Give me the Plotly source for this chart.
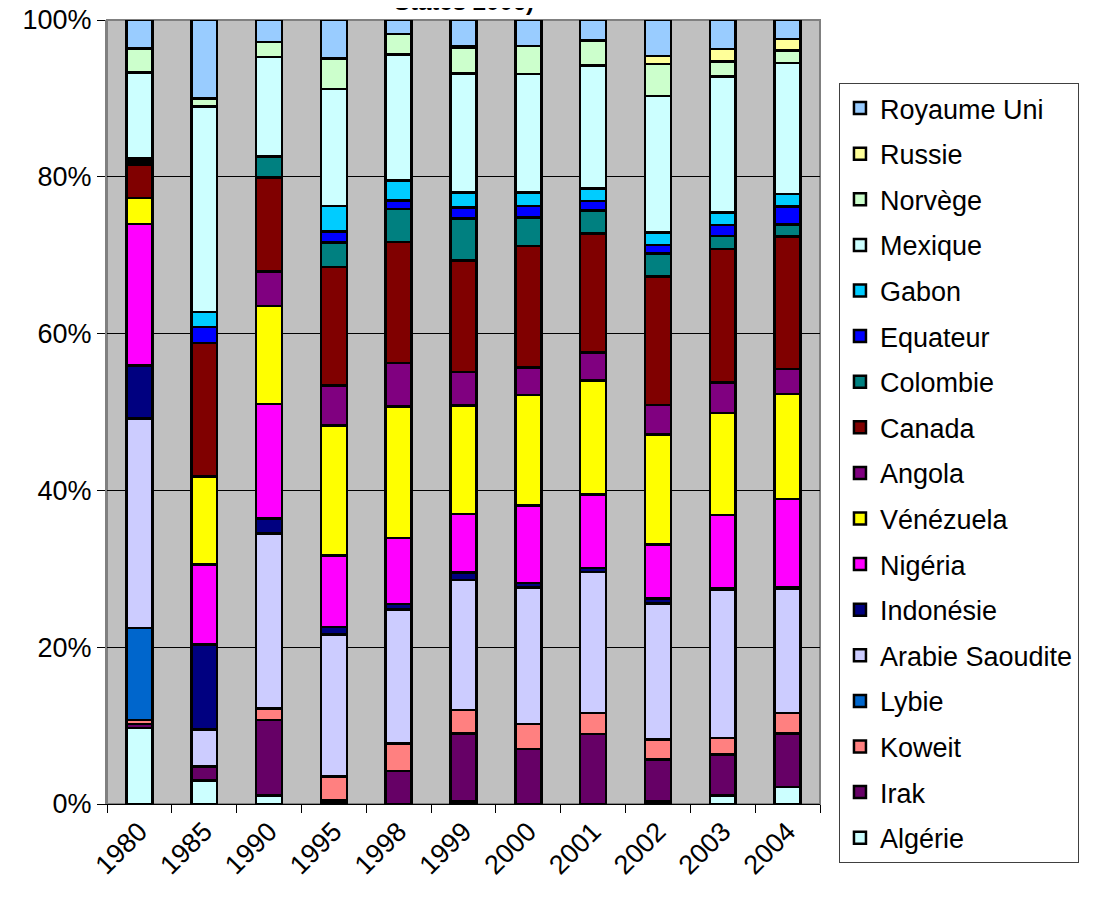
import plotly.graph_objects as go

years = ["1980", "1985", "1990", "1995", "1998", "1999", "2000", "2001", "2002", "2003", "2004"]

# values in percent (bottom of stack first)
algerie   = [9.7, 3.0, 1.1, 0.2, 0.0, 0.3, 0.0, 0.0, 0.3, 1.1, 2.2]
irak      = [0.5, 1.8, 9.6, 0.3, 4.2, 8.7, 7.0, 8.9, 5.4, 5.2, 6.8]
koweit    = [0.5, 0.0, 1.5, 3.0, 3.5, 3.0, 3.2, 2.7, 2.5, 2.1, 2.6]
lybie     = [11.7, 0.0, 0.0, 0.0, 0.0, 0.0, 0.0, 0.0, 0.0, 0.0, 0.0]
arabie    = [26.7, 4.7, 22.3, 18.1, 17.0, 16.6, 17.4, 18.0, 17.4, 18.9, 15.9]
indonesie = [6.8, 10.8, 1.9, 1.0, 0.7, 0.9, 0.6, 0.5, 0.6, 0.2, 0.2]
nigeria   = [18.0, 10.2, 14.6, 9.1, 8.4, 7.5, 9.9, 9.4, 6.9, 9.3, 11.2]
venezuela = [3.3, 11.2, 12.5, 16.6, 16.7, 13.8, 14.1, 14.5, 14.0, 13.0, 13.4]
angola    = [0.0, 0.0, 4.4, 5.1, 5.5, 4.3, 3.5, 3.6, 3.8, 3.9, 3.2]
canada    = [4.2, 17.0, 12.0, 15.1, 15.4, 14.2, 15.5, 15.2, 16.4, 17.0, 16.9]
colombie  = [0.3, 0.0, 2.7, 3.1, 4.2, 5.4, 3.6, 2.9, 2.9, 1.7, 1.5]
equateur  = [0.3, 2.0, 0.0, 1.4, 1.1, 1.4, 1.5, 1.2, 1.1, 1.4, 2.3]
gabon     = [0.3, 1.9, 0.0, 3.3, 2.5, 1.9, 1.7, 1.6, 1.6, 1.6, 1.6]
mexique   = [10.9, 26.2, 12.7, 14.9, 16.0, 15.2, 15.1, 15.7, 17.4, 17.3, 16.7]
norvege   = [3.1, 1.0, 1.9, 3.9, 2.6, 3.2, 3.6, 3.2, 4.1, 1.9, 1.6]
russie    = [0.0, 0.0, 0.0, 0.0, 0.0, 0.3, 0.0, 0.0, 1.0, 1.6, 1.5]
royaume   = [3.6, 10.0, 2.8, 4.9, 1.8, 3.3, 3.3, 2.6, 4.6, 3.7, 2.4]

series = [
    ("Algérie", algerie, "#CCFFFF"),
    ("Irak", irak, "#660066"),
    ("Koweit", koweit, "#FF8080"),
    ("Lybie", lybie, "#0066CC"),
    ("Arabie Saoudite", arabie, "#CCCCFF"),
    ("Indonésie", indonesie, "#000080"),
    ("Nigéria", nigeria, "#FF00FF"),
    ("Vénézuela", venezuela, "#FFFF00"),
    ("Angola", angola, "#800080"),
    ("Canada", canada, "#800000"),
    ("Colombie", colombie, "#008080"),
    ("Equateur", equateur, "#0000FF"),
    ("Gabon", gabon, "#00CCFF"),
    ("Mexique", mexique, "#CCFFFF"),
    ("Norvège", norvege, "#CCFFCC"),
    ("Russie", russie, "#FFFF99"),
    ("Royaume Uni", royaume, "#99CCFF"),
]

FONT = "Liberation Sans, Arial, sans-serif"

fig = go.Figure()
n = len(series)
for i, (name, vals, col) in enumerate(series):
    fig.add_trace(go.Bar(
        x=years, y=vals, name=name, legendgroup=name, legendrank=100 + (n - i),
        marker=dict(color=col, line=dict(color="black", width=2.5)),
    ))

fig.update_layout(
    width=1098, height=908,
    barmode="stack", barnorm="percent", bargap=0.6,
    margin=dict(l=99, r=286, t=12, b=112, autoexpand=False),
    paper_bgcolor="white", plot_bgcolor="#C0C0C0",
    font=dict(family=FONT, size=27, color="black"),
    showlegend=True,
    legend=dict(
        x=1.0266, xanchor="left", y=0.9196, yanchor="top",
        bgcolor="white", bordercolor="#404040", borderwidth=1,
        font=dict(family=FONT, size=27),
        traceorder="grouped", tracegroupgap=7.5,
        itemwidth=30,
    ),
    xaxis=dict(
        type="category", tickangle=-45, tickson="boundaries",
        ticks="outside", ticklen=8, tickcolor="black",
        showline=True, linecolor="black", linewidth=1,
        showgrid=False, tickfont=dict(size=27), automargin=False,
        ticklabeloverflow="allow",
    ),
    yaxis=dict(
        range=[0, 100], dtick=20, ticksuffix="%",
        ticks="outside", ticklen=8, tickcolor="black",
        showline=True, linecolor="#808080", linewidth=2,
        showgrid=True, gridcolor="black", gridwidth=1,
        tickfont=dict(size=27), zeroline=False, automargin=False,
        ticklabeloverflow="allow",
    ),
    annotations=[dict(text="<b>States 2006)</b>", xref="paper", yref="paper",
                      x=0.5, y=1.024, xanchor="center", yanchor="middle",
                      showarrow=False, font=dict(family=FONT, size=24, color="black"))],
    shapes=[dict(type="rect", xref="paper", yref="paper", x0=0, x1=1, y0=0, y1=1,
                 line=dict(color="#808080", width=2), layer="below")],
)

fig.write_html("out.html")
